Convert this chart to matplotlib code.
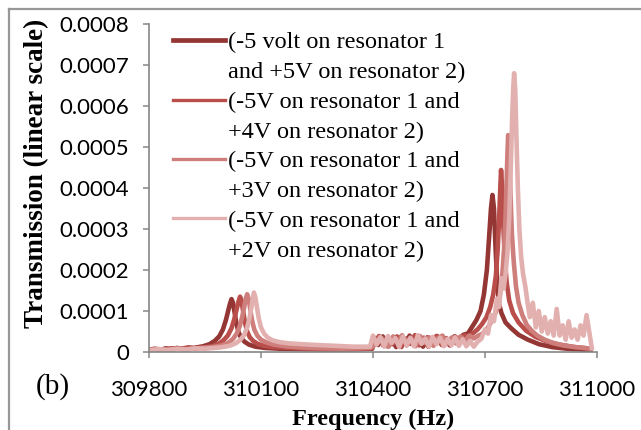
import numpy as np
import matplotlib
matplotlib.use('Agg')
from matplotlib import pyplot as plt
from matplotlib.lines import Line2D

# transmission values below are in units of 1e-4
freq_5v = [309800, 309815, 309830, 309845, 309860, 309875, 309890, 309905, 309920, 309945,
           309962, 309976, 309988, 309998, 310006, 310012, 310017, 310021, 310025, 310029,
           310034, 310040, 310047, 310056, 310068, 310085, 310110, 310150, 310200, 310260,
           310320, 310370, 310398,
           310402, 310414, 310426, 310438, 310450, 310462, 310474, 310486, 310498, 310510,
           310522, 310534, 310546, 310558, 310570, 310582, 310594, 310606, 310618, 310630,
           310642, 310654, 310666, 310677, 310688, 310697, 310705, 310711, 310716, 310720,
           310724, 310728, 310732, 310737, 310744, 310755, 310770, 310790, 310815, 310845,
           310880, 310920, 310960, 310982]
trans_5v = [0.05, 0.08, 0.05, 0.09, 0.06, 0.10, 0.07, 0.11, 0.10, 0.14,
            0.19, 0.27, 0.38, 0.55, 0.78, 1.00, 1.18, 1.29, 1.20, 0.98,
            0.70, 0.48, 0.34, 0.25, 0.18, 0.13, 0.10, 0.08, 0.07, 0.06,
            0.06, 0.07, 0.08,
            0.36, 0.17, 0.38, 0.14, 0.31, 0.12, 0.37, 0.20, 0.40, 0.15,
            0.32, 0.13, 0.36, 0.18, 0.39, 0.21, 0.33, 0.16, 0.38, 0.30,
            0.42, 0.45, 0.62, 0.78, 1.00, 1.40, 2.00, 2.80, 3.50, 3.83,
            3.50, 2.60, 1.80, 1.20, 0.95, 0.72, 0.58, 0.42, 0.30, 0.19,
            0.12, 0.08, 0.06, 0.04]

freq_4v = [309800, 309820, 309840, 309860, 309880, 309900, 309920, 309950, 309972, 309988,
           310000, 310011, 310021, 310029, 310035, 310040, 310044, 310048, 310052, 310057,
           310063, 310070, 310079, 310091, 310108, 310135, 310175, 310220, 310280, 310340,
           310396,
           310404, 310416, 310428, 310440, 310452, 310464, 310476, 310488, 310500, 310512,
           310524, 310536, 310548, 310560, 310572, 310584, 310596, 310608, 310620, 310632,
           310644, 310656, 310668, 310680, 310692, 310704, 310714, 310722, 310729, 310734,
           310738, 310741, 310743, 310746, 310749, 310753, 310758, 310765, 310775, 310790,
           310810, 310835, 310865, 310900, 310940, 310983]
trans_4v = [0.05, 0.07, 0.06, 0.09, 0.08, 0.10, 0.09, 0.11, 0.15, 0.21,
            0.29, 0.40, 0.58, 0.82, 1.05, 1.24, 1.35, 1.24, 1.00, 0.72,
            0.50, 0.36, 0.27, 0.20, 0.15, 0.12, 0.10, 0.08, 0.07, 0.07,
            0.09,
            0.22, 0.39, 0.15, 0.34, 0.19, 0.38, 0.12, 0.33, 0.20, 0.41,
            0.16, 0.35, 0.13, 0.31, 0.39, 0.17, 0.34, 0.21, 0.38, 0.25,
            0.40, 0.38, 0.46, 0.55, 0.68, 0.85, 1.10, 1.40, 1.85, 2.50,
            3.30, 4.00, 4.44, 4.00, 3.10, 2.30, 1.70, 1.25, 0.95, 0.72,
            0.52, 0.37, 0.26, 0.18, 0.12, 0.08]

freq_3v = [309800, 309825, 309850, 309875, 309900, 309940, 309970, 309995, 310012, 310025,
           310035, 310043, 310050, 310055, 310059, 310063, 310067, 310071, 310076, 310082,
           310090, 310100, 310115, 310135, 310165, 310205, 310260, 310320, 310394,
           310406, 310418, 310430, 310442, 310454, 310466, 310478, 310490, 310502, 310514,
           310526, 310538, 310550, 310562, 310574, 310586, 310598, 310610, 310622, 310634,
           310646, 310658, 310670, 310682, 310694, 310708, 310722, 310732, 310740, 310746,
           310751, 310755, 310758, 310760, 310762, 310765, 310768, 310772, 310777, 310783,
           310790, 310800, 310812, 310825, 310840, 310860, 310885, 310910, 310940, 310965,
           310984]
trans_3v = [0.05, 0.07, 0.05, 0.08, 0.07, 0.10, 0.12, 0.16, 0.22, 0.32,
            0.45, 0.63, 0.87, 1.10, 1.30, 1.41, 1.30, 1.05, 0.77, 0.55,
            0.40, 0.30, 0.23, 0.18, 0.14, 0.11, 0.09, 0.08, 0.10,
            0.18, 0.37, 0.29, 0.13, 0.38, 0.21, 0.41, 0.16, 0.33, 0.14,
            0.39, 0.22, 0.36, 0.15, 0.34, 0.40, 0.19, 0.35, 0.21, 0.38,
            0.27, 0.40, 0.33, 0.40, 0.45, 0.60, 0.82, 1.05, 1.40, 1.85,
            2.50, 3.30, 4.20, 4.80, 5.29, 4.90, 3.90, 2.90, 2.20, 1.60,
            1.20, 0.90, 0.66, 0.52, 0.40, 0.30, 0.21, 0.16, 0.12, 0.10,
            0.08]

freq_2v = [309800, 309825, 309850, 309875, 309900, 309925, 309950, 309990, 310015, 310032,
           310045, 310055, 310063, 310069, 310074, 310078, 310081, 310085, 310089, 310094,
           310100, 310108, 310118, 310132, 310150, 310175, 310210, 310250, 310300, 310350,
           310392,
           310400, 310410, 310420, 310430, 310440, 310450, 310460, 310470, 310480, 310490,
           310500, 310510, 310520, 310530, 310540, 310550, 310560, 310570, 310580, 310590,
           310600, 310610, 310620, 310630, 310640, 310650, 310660, 310670, 310680, 310690,
           310700, 310708, 310716, 310724, 310732, 310738, 310744, 310750, 310755, 310760,
           310765, 310769, 310773, 310776, 310778, 310781, 310784, 310788, 310792, 310797,
           310802, 310808, 310814, 310820, 310828, 310836, 310844, 310852, 310860, 310868,
           310876, 310884, 310892, 310900, 310908, 310916, 310924, 310932, 310940, 310948,
           310956, 310964, 310972, 310980, 310986]
trans_2v = [0.04, 0.07, 0.05, 0.08, 0.06, 0.09, 0.08, 0.11, 0.15, 0.21,
            0.30, 0.42, 0.60, 0.82, 1.07, 1.30, 1.45, 1.33, 1.10, 0.82,
            0.60, 0.45, 0.35, 0.28, 0.24, 0.21, 0.19, 0.17, 0.15, 0.13,
            0.13,
            0.40, 0.18, 0.36, 0.13, 0.39, 0.22, 0.34, 0.12, 0.38, 0.17,
            0.35, 0.14, 0.41, 0.20, 0.33, 0.13, 0.37, 0.19, 0.35, 0.14,
            0.32, 0.16, 0.36, 0.15, 0.31, 0.14, 0.27, 0.13, 0.25, 0.32,
            0.55, 0.45, 0.90, 0.75, 1.30, 1.10, 1.80, 1.55, 1.90, 2.40,
            3.30, 4.50, 5.80, 6.50, 6.80, 6.40, 5.30, 4.00, 3.00, 2.30,
            1.90, 1.60, 1.20, 0.85, 1.20, 0.60, 1.00, 0.50, 0.85, 0.45,
            0.75, 0.40, 1.05, 0.40, 0.65, 0.30, 0.75, 0.35, 0.55, 0.30,
            0.65, 0.40, 0.90, 0.45, 0.10]

series = [
    (freq_5v, trans_5v, '#943634', ['(-5 volt on resonator 1', 'and +5V on resonator 2)']),
    (freq_4v, trans_4v, '#B94E4B', ['(-5V on resonator 1 and', '+4V on resonator 2)']),
    (freq_3v, trans_3v, '#CE7E7B', ['(-5V on resonator 1 and', '+3V on resonator 2)']),
    (freq_2v, trans_2v, '#E2B0AF', ['(-5V on resonator 1 and', '+2V on resonator 2)']),
]
legend_widths = [3.4, 2.4, 2.4, 2.4]

x_ticks = [309800, 310100, 310400, 310700, 311000]
y_ticks = [0, 0.0001, 0.0002, 0.0003, 0.0004, 0.0005, 0.0006, 0.0007, 0.0008]
y_labels = ['0', '0.0001', '0.0002', '0.0003', '0.0004', '0.0005', '0.0006', '0.0007', '0.0008']

W, H = 641, 430
fig = plt.figure(figsize=(W / 100, H / 100), dpi=100)
ax = fig.add_axes([149 / W, 1 - 352 / H, 448 / W, 328 / H])

for f, t, c, lab in series:
    ax.plot(f, np.array(t) * 1e-4, color=c, lw=3.3, solid_joinstyle='round')

ax.set_xlim(309800, 311000)
ax.set_ylim(0, 0.0008)
ax.set_xticks(x_ticks)
ax.set_xticklabels([str(v) for v in x_ticks])
ax.set_yticks(y_ticks)
ax.set_yticklabels(y_labels)

axis_gray = '#868686'
for s in ['top', 'right']:
    ax.spines[s].set_visible(False)
for s in ['left', 'bottom']:
    ax.spines[s].set_color(axis_gray)
    ax.spines[s].set_linewidth(1.2)
ax.tick_params(axis='both', direction='out', length=4.5, width=1.1, color=axis_gray,
               labelsize=16, labelcolor='black')
ax.tick_params(axis='y', pad=10)
ax.tick_params(axis='x', pad=16)
for lbl in ax.get_xticklabels() + ax.get_yticklabels():
    lbl.set_family('Lato')

# legend drawn by hand so the line sits on the first text row
for i, (f, t, c, lab) in enumerate(series):
    y_line = 40 + 59.5 * i
    fig.add_artist(Line2D([173 / W, 225 / W], [1 - y_line / H, 1 - y_line / H],
                          color=c, lw=legend_widths[i]))
    fig.text(228 / W, 1 - (y_line + 8.5) / H, lab[0], family='Liberation Serif',
             fontsize=17.5, va='baseline', ha='left')
    fig.text(228 / W, 1 - (y_line + 38.5) / H, lab[1], family='Liberation Serif',
             fontsize=17.5, va='baseline', ha='left')

fig.text(373 / W, 1 - 425 / H, 'Frequency (Hz)', family='Liberation Serif',
         fontweight='bold', fontsize=17.5, ha='center', va='baseline')
fig.text(37 / W, 1 - 173 / H, 'Transmission (linear scale)', family='Liberation Serif',
         fontweight='bold', fontsize=19.5, ha='center', va='center', rotation=90)
fig.text(53 / W, 1 - 387 / H, '(b)', family='Liberation Serif', fontsize=21,
         ha='center', va='center')

# chart area border
border = '#979797'
fig.add_artist(Line2D([8.5 / W, 8.5 / W], [0, 1 - 9 / H], color=border, lw=1.6))
fig.add_artist(Line2D([8.5 / W, 1], [1 - 9 / H, 1 - 9 / H], color=border, lw=1.6))

plt.savefig('out.png', dpi=100)
